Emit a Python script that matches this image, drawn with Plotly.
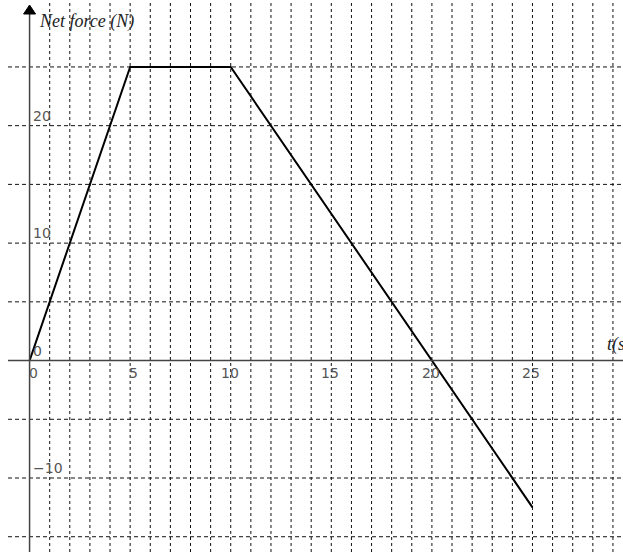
import plotly.graph_objects as go

# Data
time_s = [0, 5, 10, 25]
net_force_N = [0, 25, 25, -12.5]
x_tick_vals = [0, 5, 10, 15, 20, 25]
x_tick_text = ["0", "5", "10", "15", "20", "25"]
y_tick_vals = [20, 10, 0, -10]
y_tick_text = ["20", "10", "0", "\u221210"]
x_grid_vals = list(range(1, 30))
y_grid_vals = [-15, -10, -5, 5, 10, 15, 20, 25]

X_RANGE = [-1.47, 29.5]
Y_RANGE = [-16.3, 30.7]
W, H = 623, 552
px_x = (X_RANGE[1] - X_RANGE[0]) / W
px_y = (Y_RANGE[1] - Y_RANGE[0]) / H

fig = go.Figure()

shapes = []
for gx in x_grid_vals:
    shapes.append(dict(type="line", xref="x", yref="y", x0=gx, x1=gx,
                       y0=Y_RANGE[0], y1=Y_RANGE[1],
                       line=dict(color="#111", width=1, dash="3px,3px"), layer="below"))
for gy in y_grid_vals:
    shapes.append(dict(type="line", xref="x", yref="y", x0=X_RANGE[0] + 8 * px_x, x1=X_RANGE[1],
                       y0=gy, y1=gy,
                       line=dict(color="#111", width=1, dash="4px,3px"), layer="below"))
# x axis
shapes.append(dict(type="line", xref="x", yref="y", x0=X_RANGE[0] + 8 * px_x, x1=X_RANGE[1],
                   y0=0, y1=0, line=dict(color="#444", width=1.5)))
# y axis
shapes.append(dict(type="line", xref="x", yref="y", x0=0, x1=0,
                   y0=Y_RANGE[0], y1=Y_RANGE[1] - 12 * px_y, line=dict(color="#444", width=1.5)))
# arrow head
tip = Y_RANGE[1] - 5 * px_y
base = Y_RANGE[1] - 14 * px_y
hw = 6 * px_x
shapes.append(dict(type="path", xref="x", yref="y",
                   path=f"M {-hw} {base} L {hw} {base} L 0 {tip} Z",
                   fillcolor="black", line=dict(color="black", width=1)))

fig.add_trace(go.Scatter(x=time_s, y=net_force_N, mode="lines",
                         line=dict(color="black", width=2), hoverinfo="skip", showlegend=False))

annotations = []
tick_font = dict(family="DejaVu Sans", size=14, color="#555")
for v, t in zip(x_tick_vals, x_tick_text):
    annotations.append(dict(x=v, y=0, xref="x", yref="y", text=t, showarrow=False,
                            xanchor="right", yanchor="top", xshift=10, yshift=-2, font=tick_font))
for v, t in zip(y_tick_vals, y_tick_text):
    annotations.append(dict(x=0, y=v, xref="x", yref="y", text=t, showarrow=False,
                            xanchor="left", yanchor="bottom", xshift=1, yshift=0, font=tick_font))
annotations.append(dict(x=0, y=Y_RANGE[1], xref="x", yref="y", text="<i>Net force (N)</i>",
                        showarrow=False, xanchor="left", yanchor="middle", xshift=7, yshift=-21,
                        font=dict(family="Liberation Serif", size=18, color="#222")))
annotations.append(dict(x=X_RANGE[1], y=0, xref="x", yref="y", text="<i>t(s)</i>",
                        showarrow=False, xanchor="left", yanchor="middle", xshift=-18, yshift=16,
                        font=dict(family="Liberation Serif", size=18, color="#222")))

fig.update_layout(
    width=W, height=H,
    margin=dict(l=0, r=0, t=0, b=0),
    paper_bgcolor="white", plot_bgcolor="white",
    xaxis=dict(range=X_RANGE, showgrid=False, zeroline=False, showticklabels=False,
               ticks="", showline=False, fixedrange=True),
    yaxis=dict(range=Y_RANGE, showgrid=False, zeroline=False, showticklabels=False,
               ticks="", showline=False, fixedrange=True),
    shapes=shapes,
    annotations=annotations,
    showlegend=False,
)

fig.write_html("out.html", config={"displayModeBar": False},
               post_script="document.body.style.margin='0px';document.body.style.overflow='hidden';")
